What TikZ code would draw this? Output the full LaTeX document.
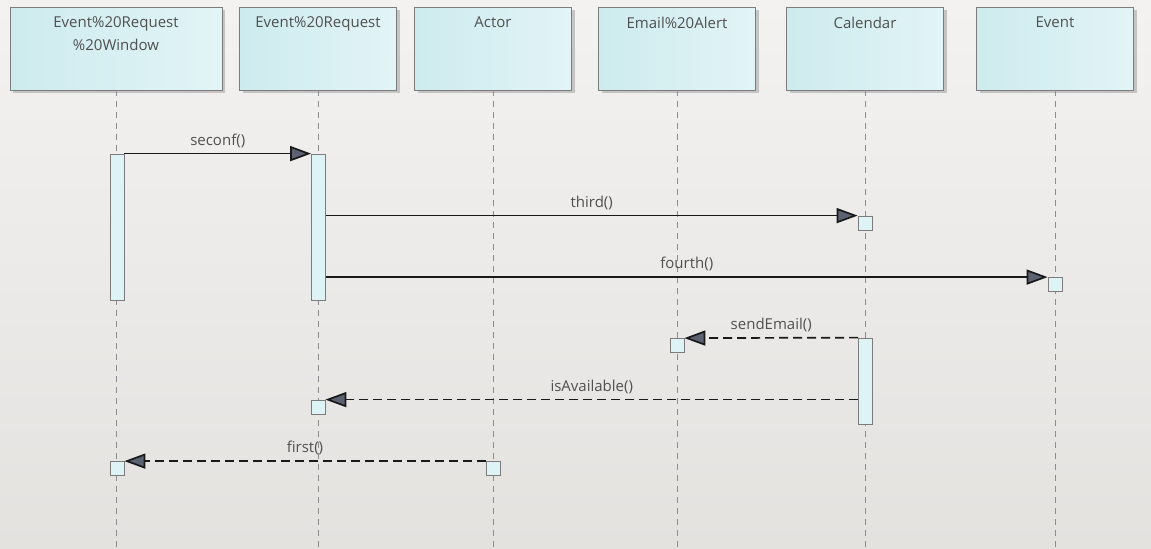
\documentclass[tikz,border=0pt]{standalone}
\usepackage{fontspec}
\setmainfont{Open Sans}
\usetikzlibrary{arrows.meta,shadows}

\definecolor{bgtop}{HTML}{F3F2F1}
\definecolor{bgbot}{HTML}{E4E2DF}
\definecolor{headl}{HTML}{CDEBEE}
\definecolor{headr}{HTML}{E2F4F6}
\definecolor{boxline}{HTML}{7C7C7C}
\definecolor{actfill}{HTML}{DDF3F5}
\definecolor{txt}{HTML}{505050}
\definecolor{tipfill}{HTML}{5C6272}

\tikzset{
    head/.style={draw=boxline, left color=headl, right color=headr,
        minimum width=78.5pt, minimum height=41.5pt, inner sep=0pt,
        drop shadow={shadow xshift=1.5pt, shadow yshift=-1.5pt, fill=black!35, opacity=.6}},
    htext/.style={anchor=north, text=txt, align=center,
        font=\fontsize{7.5}{11.5}\selectfont},
    life/.style={draw=black!45, dash pattern=on 3pt off 2.5pt},
    act/.style={draw=boxline, fill=actfill, minimum width=7pt, inner sep=0pt},
    sq/.style={act, minimum height=7pt},
    msg/.style={-{Triangle[length=10.5pt,width=7.5pt,fill=tipfill]}, line width=.85pt, draw=black!90},
    reply/.style={msg, dash pattern=on 4.5pt off 2.5pt},
    mlabel/.style={above, text=txt, font=\fontsize{7.5}{10}\selectfont, inner sep=2.5pt}
}

\begin{document}
\begin{tikzpicture}[x=0.5pt, y=-0.5pt]
    % background
    \fill[top color=bgtop, bottom color=bgbot] (0,0) rectangle (1151,548);
    \useasboundingbox (0,0) rectangle (1151,548);
    \coordinate (bot) at (0,548);

    % Heads
    \node[head, minimum width=106pt] (h1) at (116,48.5) {};
    \node[head] (h2) at (318,48.5) {};
    \node[head] (h3) at (493,48.5) {};
    \node[head] (h4) at (677,48.5) {};
    \node[head] (h5) at (865,48.5) {};
    \node[head] (h6) at (1055,48.5) {};
    \node[htext] (t1) at ([yshift=-1.5pt]h1.north) {Event\%20Request\\\%20Window};
    \node[htext] (t2) at ([yshift=-1.5pt]h2.north) {Event\%20Request};
    \node[htext] (t3) at ([yshift=-1.5pt]h3.north) {Actor};
    \node[htext] (t4) at ([yshift=-1.5pt]h4.north) {Email\%20Alert};
    \node[htext] (t5) at ([yshift=-1.5pt]h5.north) {Calendar};
    \node[htext] (t6) at ([yshift=-1.5pt]h6.north) {Event};

    % Lifelines
    \draw[life] (h1.south) -- (h1.south |- bot);
    \draw[life] (h2.south) -- (h2.south |- bot);
    \draw[life] (h3.south) -- (h3.south |- bot);
    \draw[life] (h4.south) -- (h4.south |- bot);
    \draw[life] (h5.south) -- (h5.south |- bot);
    \draw[life] (h6.south) -- (h6.south |- bot);

    % Activations
    \node[act, minimum height=73pt] (a1) at (117,227) {};
    \node[act, minimum height=73pt] (a2) at (318.5,227) {};
    \node[act, minimum height=43pt] (a5) at (865.5,381) {};
    \node[sq] (s5) at (865,223) {};
    \node[sq] (s6) at (1055,284.5) {};
    \node[sq] (s4) at (677,345.5) {};
    \node[sq] (s2) at (318,407) {};
    \node[sq] (s1) at (117,468.5) {};
    \node[sq] (s3) at (493,468.5) {};

    % Messages
    \draw[msg] (a1.north east) -- (a2.north west) node[mlabel, midway] {seconf()};
    \draw[msg] (a2.east |- s5.north west) -- (s5.north west) node[mlabel, midway] {third()};
    \draw[msg] (a2.east |- s6.north west) -- (s6.north west) node[mlabel, midway] {fourth()};
    \draw[reply] (a5.north west) -- (s4.north east) node[mlabel, midway] {sendEmail()};
    \draw[reply] (a5.west |- s2.north east) -- (s2.north east) node[mlabel, midway] {isAvailable()};
    \draw[reply] (s3.north west) -- (s1.north east) node[mlabel, midway] {first()};
\end{tikzpicture}
\end{document}
